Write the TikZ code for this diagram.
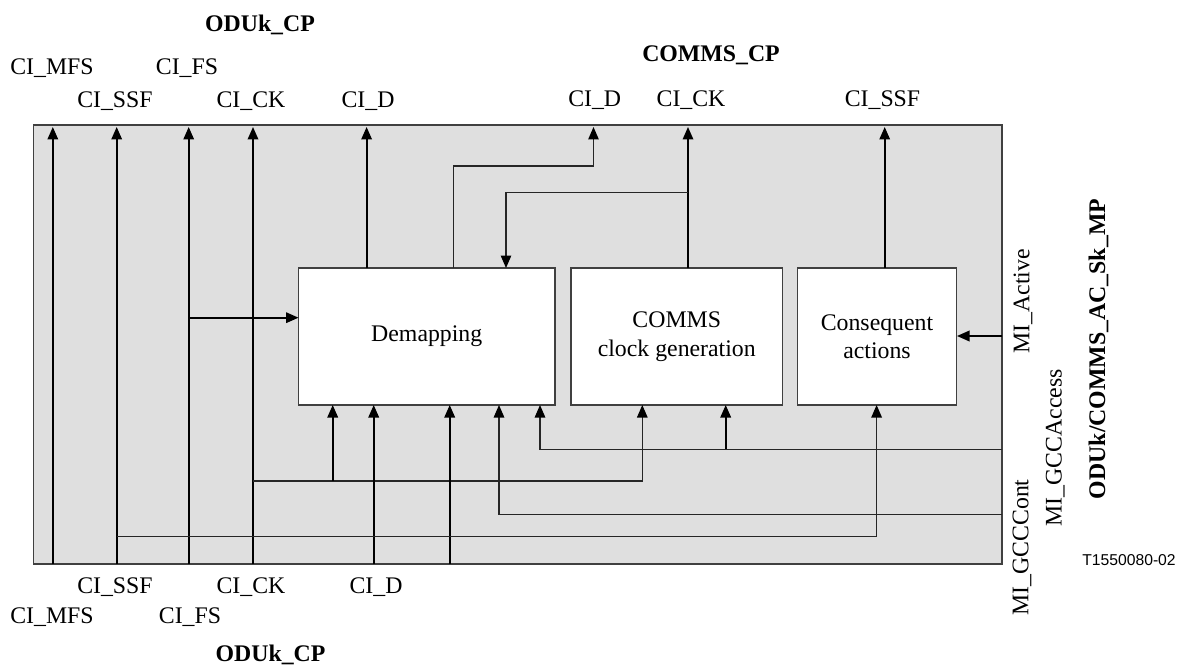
\documentclass[tikz,border=0pt]{standalone}
\usepackage{fontspec}
\setmainfont{Liberation Serif}
\newfontfamily\arialfont{Liberation Sans}
\usetikzlibrary{arrows.meta}
\begin{document}
\begin{tikzpicture}[x=1pt,y=-1pt,
  every node/.style={font=\fontsize{23.8}{28.5}\selectfont, inner sep=0pt},
  frame/.style={draw=black!75, line width=1.5pt, fill=black!12.5},
  blk/.style={draw=black!75, line width=1.3pt, fill=white, minimum height=137pt},
  sig/.style={line width=1.8pt, -{Triangle[length=12.5pt,width=10.5pt]}},
  fbk/.style={line width=1.2pt, draw=black!85, -{Triangle[length=12.5pt,width=10.5pt,color=black]}},
  fbl/.style={line width=1.2pt, draw=black!85},
  lbl/.style={anchor=base},
  blab/.style={anchor=base, font=\fontsize{23.8}{28.5}\selectfont\bfseries},
  rlab/.style={anchor=base, rotate=90},
]
\useasboundingbox (0,0) rectangle (1181,666);
\fill[white] (0,0) rectangle (1181,666);

% frame and blocks
\node[frame, minimum width=968.3pt, minimum height=439pt] (fr) at (517.85,344.5) {};
\node[blk, minimum width=256.5pt] (dem) at (426.75,336.5) {Demapping};
\node[blk, minimum width=211.5pt, align=center] (clk) at (676.75,336.5) {COMMS\\clock generation};
\node[blk, minimum width=159.5pt, align=center] (cons) at (877,336.5) {Consequent\\actions};

% top labels
\node[blab] (tODU) at (260,32) {ODUk\_CP};
\node[lbl] (tMFS) at (52,75) {CI\_MFS};
\node[lbl] (tFS) at (187,75) {CI\_FS};
\node[lbl] (tSSF) at (115,108) {CI\_SSF};
\node[lbl] (tCK) at (251,108) {CI\_CK};
\node[lbl] (tD) at (368,108) {CI\_D};
\node[blab] (tCOM) at (711,62) {COMMS\_CP};
\node[lbl] (cD) at (594.7,107) {CI\_D};
\node[lbl] (cCK) at (691,107) {CI\_CK};
\node[lbl] (cSSF) at (882.5,107) {CI\_SSF};

% bottom labels
\node[lbl] (bSSF) at (115,593) {CI\_SSF};
\node[lbl] (bCK) at (251,593) {CI\_CK};
\node[lbl] (bD) at (376,593) {CI\_D};
\node[lbl] (bMFS) at (52,623) {CI\_MFS};
\node[lbl] (bFS) at (190,623) {CI\_FS};
\node[blab] (bODU) at (270.6,661) {ODUk\_CP};

% right labels
\node[rlab] (mA) at (1029.3,301.5) {MI\_Active};
\node[rlab] (mAcc) at (1061.7,447.7) {MI\_GCCAccess};
\node[rlab] (mCont) at (1028.3,547.5) {MI\_GCCCont};
\node[rlab, font=\fontsize{23.8}{28.5}\selectfont\bfseries] (mp) at (1105,349) {ODUk/COMMS\_AC\_Sk\_MP};
\node[anchor=base, font=\arialfont\fontsize{15.7}{18}\selectfont] (tid) at (1129,565) {T1550080-02};

% port coordinates
\coordinate (mfsB) at (52.8,564);  \coordinate (mfsT) at (52.8,127);
\coordinate (ssfB) at (116.7,564); \coordinate (ssfT) at (116.7,127);
\coordinate (fsB) at (188.7,564);  \coordinate (fsT) at (188.7,127);
\coordinate (ckB) at (253,564);    \coordinate (ckT) at (253,127);
\coordinate (dT) at (366.6,127);   \coordinate (dS) at (366.6,268);
\coordinate (fsJ) at (188.7,317.7); \coordinate (demW) at (298.5,317.7);
\coordinate (dOut) at (453.5,268); \coordinate (cDT) at (593.5,127);
\coordinate (cCKS) at (688,268);   \coordinate (cCKT) at (688,127);
\coordinate (ckJ) at (688,192.7);  \coordinate (demIn) at (506,268);
\coordinate (csS) at (884.7,268);  \coordinate (csT) at (884.7,127);
\coordinate (maR) at (1002,336);   \coordinate (maL) at (957,336);
% bottom
\coordinate (ckJ2) at (253,481);   \coordinate (clkIn1) at (642.3,405);
\coordinate (ckJ3) at (332.7,481); \coordinate (demB1) at (332.7,405);
\coordinate (dB) at (373.7,564);   \coordinate (demB2) at (373.7,405);
\coordinate (uB) at (449.7,564);   \coordinate (demB3) at (449.7,405);
\coordinate (accR) at (1002,449.3); \coordinate (demB5) at (540,405);
\coordinate (accJ) at (725.7,449.3); \coordinate (clkIn2) at (725.7,405);
\coordinate (contR) at (1002,514.3); \coordinate (demB4) at (499,405);
\coordinate (ssfJ) at (116.7,536.7); \coordinate (consB) at (876.6,405);

% top connectors
\draw[sig] (mfsB) -- (mfsT);
\draw[sig] (ssfB) -- (ssfT);
\draw[sig] (fsB) -- (fsT);
\draw[sig] (ckB) -- (ckT);
\draw[sig] (dS) -- (dT);
\draw[sig] (fsJ) -- (demW);
\draw[fbk] (dOut) -- ++(0,-102) -| (cDT);
\draw[sig] (cCKS) -- (cCKT);
\draw[fbk] (ckJ) -| (demIn);
\draw[sig] (csS) -- (csT);
\draw[sig] (maR) -- (maL);

% bottom connectors
\draw[fbk] (ckJ2) -| (clkIn1);
\draw[sig] (ckJ3) -- (demB1);
\draw[sig] (dB) -- (demB2);
\draw[sig] (uB) -- (demB3);
\draw[fbk] (accR) -| (demB5);
\draw[sig] (accJ) -- (clkIn2);
\draw[fbk] (contR) -| (demB4);
\draw[fbk] (ssfJ) -| (consB);
\end{tikzpicture}
\end{document}
